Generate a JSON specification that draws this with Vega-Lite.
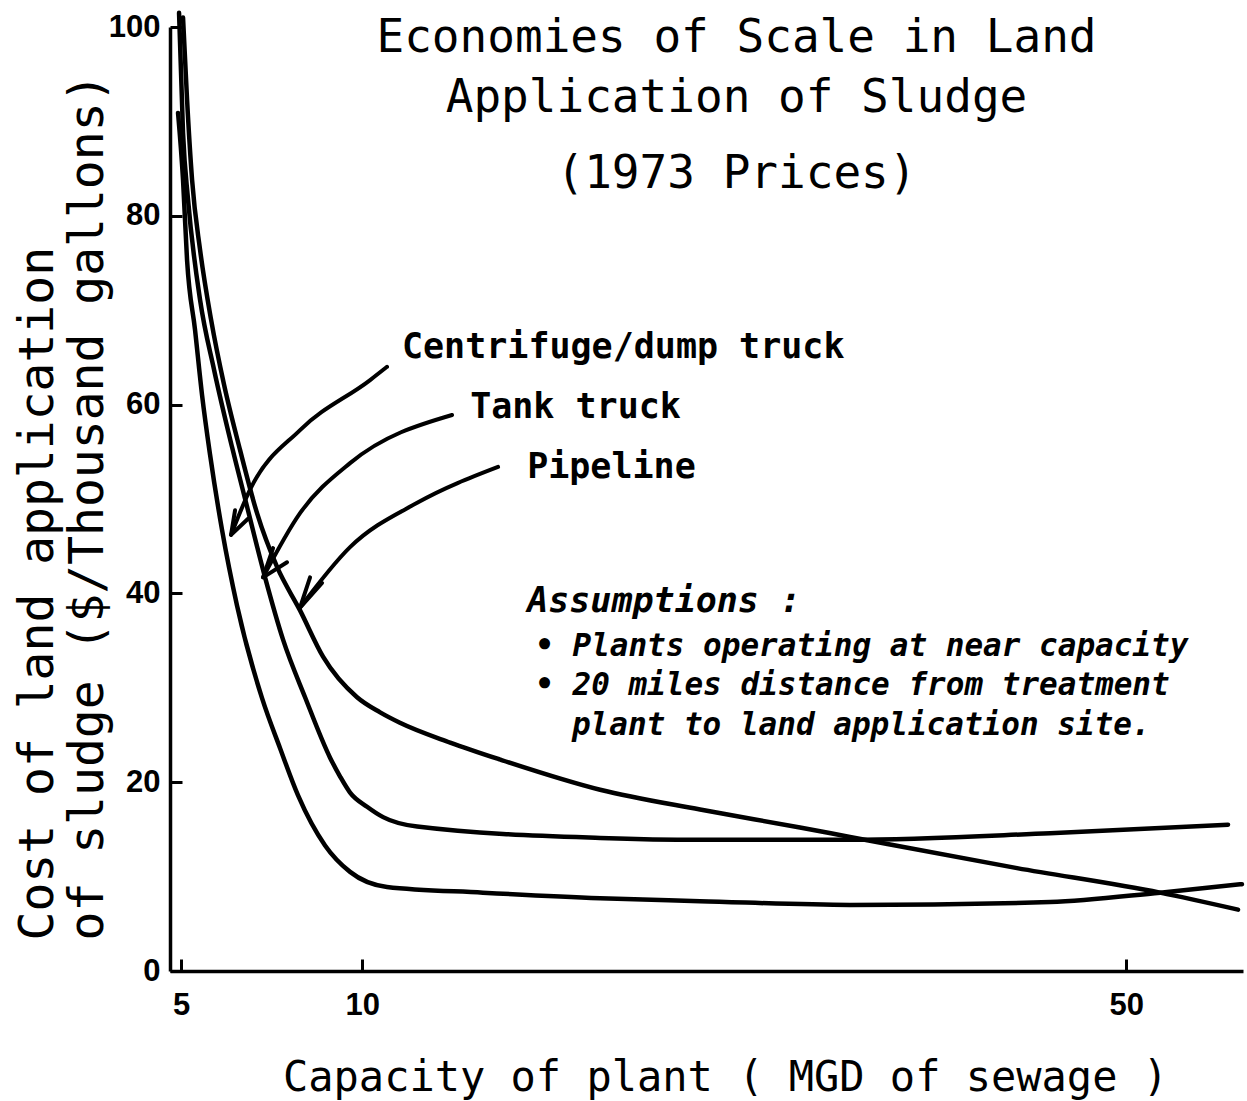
{
  "$schema": "https://vega.github.io/schema/vega-lite/v6.json",
  "width": 1073,
  "height": 944,
  "autosize": {"type": "none"},
  "padding": {"left": 170, "top": 27, "right": 4, "bottom": 130},
  "background": "white",
  "config": {"view": {"stroke": null}, "font": "DejaVu Sans Mono"},
  "title": {
    "text": ["Economies of Scale in Land", "Application of Sludge"],
    "subtitle": "(1973 Prices)",
    "anchor": "middle",
    "frame": "group",
    "font": "DejaVu Sans Mono",
    "fontSize": 46,
    "fontWeight": "normal",
    "color": "black",
    "lineHeight": 60,
    "subtitleFont": "DejaVu Sans Mono",
    "subtitleFontSize": 46,
    "subtitleColor": "black",
    "subtitlePadding": 30,
    "offset": 0,
    "dx": 30,
    "dy": 194
  },
  "datasets": {
    "curves": [
      {"series": "Pipeline", "mgd": 5.045, "cost": 101.0},
      {"series": "Pipeline", "mgd": 5.138, "cost": 92.3},
      {"series": "Pipeline", "mgd": 5.255, "cost": 83.8},
      {"series": "Pipeline", "mgd": 5.444, "cost": 76.4},
      {"series": "Pipeline", "mgd": 5.710, "cost": 69.0},
      {"series": "Pipeline", "mgd": 6.032, "cost": 62.1},
      {"series": "Pipeline", "mgd": 6.440, "cost": 55.2},
      {"series": "Pipeline", "mgd": 6.889, "cost": 48.5},
      {"series": "Pipeline", "mgd": 7.437, "cost": 42.8},
      {"series": "Pipeline", "mgd": 8.092, "cost": 38.2},
      {"series": "Pipeline", "mgd": 8.775, "cost": 33.3},
      {"series": "Pipeline", "mgd": 9.836, "cost": 29.0},
      {"series": "Pipeline", "mgd": 10.59, "cost": 27.4},
      {"series": "Pipeline", "mgd": 11.26, "cost": 26.3},
      {"series": "Pipeline", "mgd": 13.05, "cost": 24.2},
      {"series": "Pipeline", "mgd": 14.96, "cost": 22.4},
      {"series": "Pipeline", "mgd": 19.18, "cost": 19.2},
      {"series": "Pipeline", "mgd": 23.92, "cost": 17.1},
      {"series": "Pipeline", "mgd": 29.18, "cost": 15.2},
      {"series": "Pipeline", "mgd": 32.01, "cost": 14.2},
      {"series": "Pipeline", "mgd": 42.41, "cost": 10.9},
      {"series": "Pipeline", "mgd": 52.47, "cost": 8.3},
      {"series": "Pipeline", "mgd": 58.41, "cost": 6.5},
      {"series": "Tank truck", "mgd": 4.954, "cost": 101.5},
      {"series": "Tank truck", "mgd": 5.045, "cost": 88.8},
      {"series": "Tank truck", "mgd": 5.161, "cost": 81.7},
      {"series": "Tank truck", "mgd": 5.444, "cost": 71.1},
      {"series": "Tank truck", "mgd": 5.783, "cost": 63.7},
      {"series": "Tank truck", "mgd": 6.234, "cost": 55.5},
      {"series": "Tank truck", "mgd": 6.623, "cost": 49.2},
      {"series": "Tank truck", "mgd": 7.106, "cost": 41.7},
      {"series": "Tank truck", "mgd": 7.605, "cost": 35.1},
      {"series": "Tank truck", "mgd": 8.239, "cost": 29.0},
      {"series": "Tank truck", "mgd": 8.989, "cost": 22.6},
      {"series": "Tank truck", "mgd": 9.30, "cost": 20.6},
      {"series": "Tank truck", "mgd": 9.613, "cost": 18.9},
      {"series": "Tank truck", "mgd": 10.16, "cost": 17.4},
      {"series": "Tank truck", "mgd": 10.69, "cost": 16.3},
      {"series": "Tank truck", "mgd": 11.86, "cost": 15.3},
      {"series": "Tank truck", "mgd": 19.18, "cost": 14.1},
      {"series": "Tank truck", "mgd": 23.92, "cost": 13.9},
      {"series": "Tank truck", "mgd": 32.01, "cost": 13.9},
      {"series": "Tank truck", "mgd": 44.64, "cost": 14.6},
      {"series": "Tank truck", "mgd": 57.63, "cost": 15.5},
      {"series": "Centrifuge/dump truck", "mgd": 4.931, "cost": 90.9},
      {"series": "Centrifuge/dump truck", "mgd": 5.045, "cost": 83.8},
      {"series": "Centrifuge/dump truck", "mgd": 5.138, "cost": 75.3},
      {"series": "Centrifuge/dump truck", "mgd": 5.325, "cost": 67.9},
      {"series": "Centrifuge/dump truck", "mgd": 5.492, "cost": 61.0},
      {"series": "Centrifuge/dump truck", "mgd": 5.685, "cost": 54.7},
      {"series": "Centrifuge/dump truck", "mgd": 5.982, "cost": 46.7},
      {"series": "Centrifuge/dump truck", "mgd": 6.363, "cost": 38.7},
      {"series": "Centrifuge/dump truck", "mgd": 7.024, "cost": 28.9},
      {"series": "Centrifuge/dump truck", "mgd": 7.521, "cost": 23.6},
      {"series": "Centrifuge/dump truck", "mgd": 8.034, "cost": 18.6},
      {"series": "Centrifuge/dump truck", "mgd": 8.836, "cost": 13.3},
      {"series": "Centrifuge/dump truck", "mgd": 9.613, "cost": 10.5},
      {"series": "Centrifuge/dump truck", "mgd": 10.82, "cost": 8.9},
      {"series": "Centrifuge/dump truck", "mgd": 14.29, "cost": 8.3},
      {"series": "Centrifuge/dump truck", "mgd": 19.18, "cost": 7.7},
      {"series": "Centrifuge/dump truck", "mgd": 23.92, "cost": 7.4},
      {"series": "Centrifuge/dump truck", "mgd": 32.01, "cost": 7.0},
      {"series": "Centrifuge/dump truck", "mgd": 44.64, "cost": 7.3},
      {"series": "Centrifuge/dump truck", "mgd": 52.47, "cost": 8.3},
      {"series": "Centrifuge/dump truck", "mgd": 58.72, "cost": 9.2}
    ],
    "shafts": [
      {"arrow": "Centrifuge/dump truck", "mgd": 10.82, "cost": 64.0},
      {"arrow": "Centrifuge/dump truck", "mgd": 10.26, "cost": 62.6},
      {"arrow": "Centrifuge/dump truck", "mgd": 8.092, "cost": 57.3},
      {"arrow": "Centrifuge/dump truck", "mgd": 6.702, "cost": 51.0},
      {"arrow": "Centrifuge/dump truck", "mgd": 6.209, "cost": 46.2},
      {"arrow": "Tank truck", "mgd": 13.12, "cost": 58.9},
      {"arrow": "Tank truck", "mgd": 9.613, "cost": 53.8},
      {"arrow": "Tank truck", "mgd": 8.092, "cost": 48.5},
      {"arrow": "Tank truck", "mgd": 7.051, "cost": 41.7},
      {"arrow": "Pipeline", "mgd": 14.88, "cost": 53.4},
      {"arrow": "Pipeline", "mgd": 11.86, "cost": 49.6},
      {"arrow": "Pipeline", "mgd": 9.613, "cost": 44.9},
      {"arrow": "Pipeline", "mgd": 8.092, "cost": 38.5}
    ],
    "heads": [
      {"arrow": "Centrifuge/dump truck", "ord": 1, "mgd": 6.311, "cost": 48.8},
      {"arrow": "Centrifuge/dump truck", "ord": 2, "mgd": 6.209, "cost": 46.2},
      {"arrow": "Centrifuge/dump truck", "ord": 3, "mgd": 6.650, "cost": 47.9},
      {"arrow": "Tank truck", "ord": 1, "mgd": 7.326, "cost": 44.8},
      {"arrow": "Tank truck", "ord": 2, "mgd": 7.051, "cost": 41.7},
      {"arrow": "Tank truck", "ord": 3, "mgd": 7.718, "cost": 43.3},
      {"arrow": "Pipeline", "ord": 1, "mgd": 8.386, "cost": 41.7},
      {"arrow": "Pipeline", "ord": 2, "mgd": 8.092, "cost": 38.5},
      {"arrow": "Pipeline", "ord": 3, "mgd": 8.745, "cost": 41.1}
    ],
    "names": [
      {"label": "Centrifuge/dump truck", "mgd": 11.33, "cost": 64.9},
      {"label": "Tank truck", "mgd": 13.80, "cost": 58.6},
      {"label": "Pipeline", "mgd": 16.05, "cost": 52.2}
    ],
    "heading": [
      {"label": "Assumptions :", "mgd": 16.05, "cost": 38.0}
    ],
    "notes": [
      {"label": "• Plants operating at near capacity", "mgd": 16.38, "cost": 33.4},
      {"label": "• 20 miles distance from treatment", "mgd": 16.38, "cost": 29.2},
      {"label": "plant to land application site.", "mgd": 17.94, "cost": 25.0}
    ]
  },
  "encoding": {
    "x": {
      "field": "mgd",
      "type": "quantitative",
      "scale": {"type": "sqrt", "domain": [4.75, 58.8], "zero": false, "nice": false},
      "axis": {
        "values": [5, 10, 50],
        "title": "Capacity of plant ( MGD of sewage )",
        "titleFont": "DejaVu Sans Mono",
        "titleFontSize": 42,
        "titleFontWeight": "normal",
        "titleColor": "black",
        "titleX": 555,
        "titleY": 119,
        "titleBaseline": "alphabetic",
        "titleAlign": "center",
        "labelFont": "Liberation Sans",
        "labelFontSize": 31,
        "labelFontWeight": "bold",
        "labelColor": "black",
        "labelPadding": 31,
        "labelFlush": false,
        "labelOverlap": false,
        "tickSize": -12,
        "tickWidth": 3,
        "tickColor": "black",
        "domainColor": "black",
        "domainWidth": 3.5,
        "grid": false
      }
    },
    "y": {
      "field": "cost",
      "type": "quantitative",
      "scale": {"domain": [0, 100], "nice": false},
      "axis": {
        "values": [0, 20, 40, 60, 80, 100],
        "title": ["Cost of land application", "of sludge ($/Thousand gallons)"],
        "titleFont": "DejaVu Sans Mono",
        "titleFontSize": 48,
        "titleFontWeight": "normal",
        "titleColor": "black",
        "titleAngle": -90,
        "titleX": -118,
        "titleY": 913,
        "titleBaseline": "alphabetic",
        "titleAlign": "left",
        "titleLineHeight": 50,
        "labelFont": "Liberation Sans",
        "labelFontSize": 31,
        "labelFontWeight": "bold",
        "labelColor": "black",
        "labelPadding": 22,
        "labelOverlap": false,
        "tickSize": -12,
        "tickWidth": 3,
        "tickColor": "black",
        "domainColor": "black",
        "domainWidth": 3.5,
        "grid": false
      }
    }
  },
  "layer": [
    {
      "data": {"name": "curves"},
      "mark": {"type": "line", "color": "black", "strokeWidth": 4.5, "interpolate": "monotone", "strokeCap": "round"},
      "encoding": {"detail": {"field": "series", "type": "nominal"}}
    },
    {
      "data": {"name": "shafts"},
      "mark": {"type": "line", "color": "black", "strokeWidth": 4, "interpolate": "monotone", "strokeCap": "round"},
      "encoding": {"detail": {"field": "arrow", "type": "nominal"}}
    },
    {
      "data": {"name": "heads"},
      "mark": {"type": "line", "color": "black", "strokeWidth": 4, "interpolate": "linear", "strokeCap": "round", "strokeJoin": "round"},
      "encoding": {
        "detail": {"field": "arrow", "type": "nominal"},
        "order": {"field": "ord", "type": "quantitative"}
      }
    },
    {
      "data": {"name": "names"},
      "mark": {"type": "text", "align": "left", "baseline": "alphabetic", "font": "DejaVu Sans Mono", "fontSize": 35, "fontWeight": "bold", "color": "black"},
      "encoding": {"text": {"field": "label", "type": "nominal"}}
    },
    {
      "data": {"name": "heading"},
      "mark": {"type": "text", "align": "left", "baseline": "alphabetic", "font": "DejaVu Sans Mono", "fontSize": 35, "fontWeight": "bold", "fontStyle": "italic", "color": "black"},
      "encoding": {"text": {"field": "label", "type": "nominal"}}
    },
    {
      "data": {"name": "notes"},
      "mark": {"type": "text", "align": "left", "baseline": "alphabetic", "font": "DejaVu Sans Mono", "fontSize": 31, "fontWeight": "bold", "fontStyle": "italic", "color": "black"},
      "encoding": {"text": {"field": "label", "type": "nominal"}}
    }
  ]
}
